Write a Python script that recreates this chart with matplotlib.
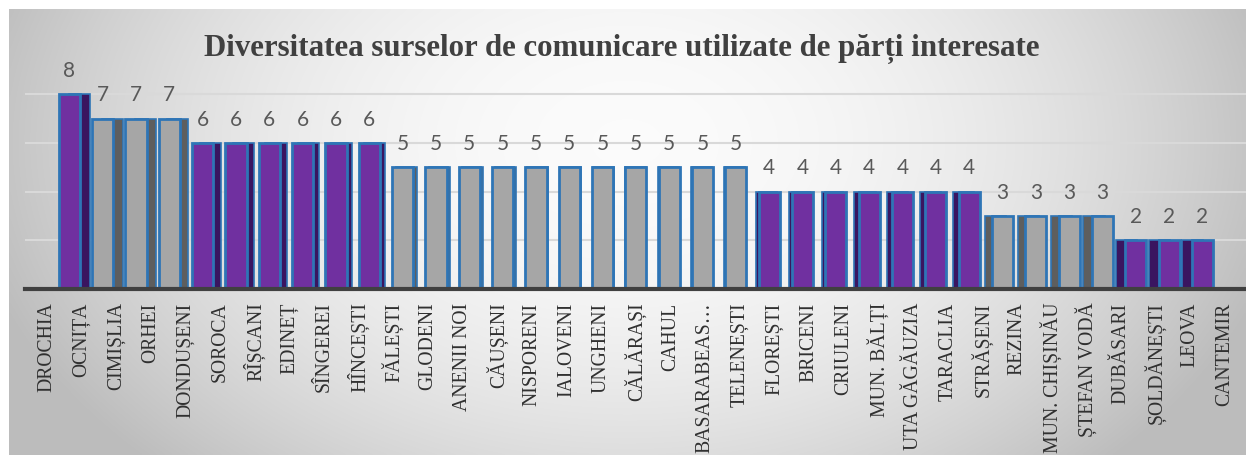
import numpy as np
import matplotlib
matplotlib.use("Agg")
import matplotlib.pyplot as plt

# ---------------- data ----------------
districts = ["DROCHIA", "OCNIȚA", "CIMIȘLIA", "ORHEI", "DONDUȘENI", "SOROCA",
             "RÎȘCANI", "EDINEȚ", "SÎNGEREI", "HÎNCEȘTI", "FĂLEȘTI", "GLODENI",
             "ANENII NOI", "CĂUȘENI", "NISPORENI", "IALOVENI", "UNGHENI",
             "CĂLĂRAȘI", "CAHUL", "BASARABEAS…", "TELENEȘTI", "FLOREȘTI",
             "BRICENI", "CRIULENI", "MUN. BĂLȚI", "UTA GĂGĂUZIA", "TARACLIA",
             "STRĂȘENI", "REZINA", "MUN. CHIȘINĂU", "ȘTEFAN VODĂ", "DUBĂSARI",
             "ȘOLDĂNEȘTI", "LEOVA", "CANTEMIR"]
sources = [8, 7, 7, 7, 6, 6, 6, 6, 6, 6,
           5, 5, 5, 5, 5, 5, 5, 5, 5, 5, 5,
           4, 4, 4, 4, 4, 4, 4,
           3, 3, 3, 3,
           2, 2, 2]
title = "Diversitatea surselor de comunicare utilizate de părți interesate"

# ---------------- figure ----------------
W, H = 1246, 456
fig = plt.figure(figsize=(W / 100, H / 100), dpi=100, facecolor="white")

# gradient background panel
bg = fig.add_axes([9 / W, 0, 1 - 9 / W, 1 - 10 / H], zorder=-10)
gx = np.linspace(0, 1, 400)
gy = np.linspace(0, 1, 200)
X, Y = np.meshgrid(gx, gy)
r2 = ((X - 0.5) / 0.5) ** 2 + ((Y - 0.3) / 0.95) ** 2
v = np.clip(0.985 - 0.21 * r2, 0.74, 1.0)
img = np.dstack([v, v, v])
bg.imshow(img, aspect="auto", extent=[0, 1, 1, 0], interpolation="bicubic")
bg.axis("off")

# main axes
left_px, right_px = 25, 1246
base_px, top_px = 290, 71
ax = fig.add_axes([left_px / W, (H - base_px) / H,
                   (right_px - left_px) / W, (base_px - top_px) / H])
ax.patch.set_alpha(0)

n = len(sources)
x = np.arange(n)
ax.set_xlim(-0.635, n - 1 + 0.61)
ax.set_ylim(0, 9)

purple, purple_dark = "#7030A0", "#3A1560"
grey, grey_dark = "#A6A6A6", "#5E5E5E"
edge = "#2E75B6"

front_cols = [purple if val % 2 == 0 else grey for val in sources]
side_cols = [purple_dark if val % 2 == 0 else grey_dark for val in sources]

# pseudo-3D perspective: columns drawn slightly towards the centre
centre = (n - 1) / 2
xb = centre + (x - centre) * 0.962
offs = 0.30 * (centre - x) / centre

ax.bar(xb + offs, sources, width=0.61, color=side_cols, edgecolor=edge,
       linewidth=1.2, zorder=2)
ax.bar(xb, sources, width=0.61, color=front_cols, edgecolor=edge,
       linewidth=2.0, zorder=3)

for xi, val in zip(xb, sources):
    ax.text(xi, val + 1.0, str(val), ha="center", va="center",
            fontsize=15, color="#595959",
            family=["Lato", "DejaVu Sans"], zorder=5)

ax.set_yticks([2, 4, 6, 8])
ax.yaxis.grid(True, color="#D9D9D9", linewidth=1.5, zorder=0)
ax.set_axisbelow(True)
ax.tick_params(axis="y", length=0, labelleft=False)

ax.set_xticks(x)
ax.set_xticklabels(districts, rotation=90, fontsize=14.2,
                   family=["Liberation Serif", "DejaVu Serif"], color="#303030")
ax.tick_params(axis="x", length=0, pad=9)

for s in ["top", "left", "right"]:
    ax.spines[s].set_visible(False)
ax.spines["bottom"].set_color("#404040")
ax.spines["bottom"].set_linewidth(3)
ax.spines["bottom"].set_zorder(4)

# title, sized to match reference width
t = fig.text(622 / W, 1 - 49 / H, title, ha="center", va="center",
             fontsize=20, fontweight="bold", color="#404040",
             family=["Liberation Serif", "DejaVu Serif"])
fig.canvas.draw()
wpx = t.get_window_extent().width
t.set_fontsize(20 * 835 / wpx)

fig.savefig("out.png", dpi=100, facecolor=fig.get_facecolor())
